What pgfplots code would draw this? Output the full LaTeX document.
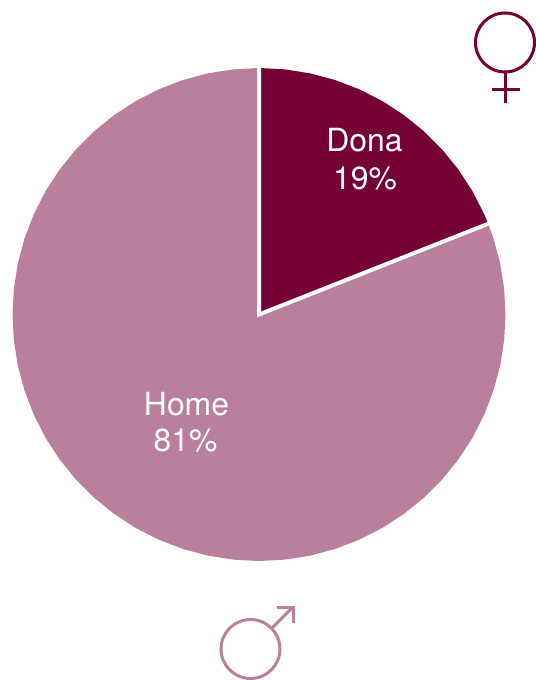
\documentclass[border=0pt]{standalone}
\usepackage{pgfplots}
\pgfplotsset{compat=1.18}
\usepackage{fontspec}
\setmainfont{TeX Gyre Heros}
\definecolor{dona}{HTML}{740035}
\definecolor{home}{HTML}{B97F9C}
\begin{document}
\begin{tikzpicture}
% Page area
\path (0bp,0bp) rectangle (536bp,680bp);
% Unit-radius pie; both shares start at 12 o'clock and run clockwise.
\begin{axis}[
  at={(0bp,0bp)}, anchor=south west,
  scale only axis, width=536bp, height=680bp,
  hide axis, clip=false,
  xmin=-1.0507, xmax=1.1237, ymin=-1.4828, ymax=1.2759,
]
% Dona: 19%
\addplot[draw=none, fill=dona] coordinates {
  (0,0) (0,1) (.10453,.99452) (.20791,.97815) (.30902,.95106) (.40674,.91355)
  (.5,.86603) (.58779,.80902) (.66913,.74314) (.74314,.66913) (.80902,.58779)
  (.86603,.5) (.91355,.40674) (.92978,.36812)
} -- cycle;
% Home: 81%
\addplot[draw=none, fill=home] coordinates {
  (0,0) (.92978,.36812) (.95106,.30902) (.97815,.20791) (.99452,.10453) (1,0)
  (.99452,-.10453) (.97815,-.20791) (.95106,-.30902) (.91355,-.40674) (.86603,-.5)
  (.80902,-.58779) (.74314,-.66913) (.66913,-.74314) (.58779,-.80902) (.5,-.86603)
  (.40674,-.91355) (.30902,-.95106) (.20791,-.97815) (.10453,-.99452) (0,-1)
  (-.10453,-.99452) (-.20791,-.97815) (-.30902,-.95106) (-.40674,-.91355) (-.5,-.86603)
  (-.58779,-.80902) (-.66913,-.74314) (-.74314,-.66913) (-.80902,-.58779) (-.86603,-.5)
  (-.91355,-.40674) (-.95106,-.30902) (-.97815,-.20791) (-.99452,-.10453) (-1,0)
  (-.99452,.10453) (-.97815,.20791) (-.95106,.30902) (-.91355,.40674) (-.86603,.5)
  (-.80902,.58779) (-.74314,.66913) (-.66913,.74314) (-.58779,.80902) (-.5,.86603)
  (-.40674,.91355) (-.30902,.95106) (-.20791,.97815) (-.10453,.99452) (0,1)
} -- cycle;
% White separators between the two slices
\addplot[draw=white, line width=4bp, line join=miter] coordinates {
  (0,1.01) (0,0) (.93909,.37180)
};
\end{axis}
% Labels and gender symbols, placed on a y-down grid measured from the top left
\begin{scope}[shift={(0bp,680bp)}, x=1bp, y=-1bp]
  \fontsize{32}{37}\selectfont
  \node[white, anchor=base, inner sep=0pt] at (364.5,152) {Dona};
  \node[white, anchor=base, inner sep=0pt] at (365,190) {19\%};
  \node[white, anchor=base, inner sep=0pt] at (186.5,415.5) {Home};
  \node[white, anchor=base, inner sep=0pt] at (185.5,451.5) {81\%};
  % Female symbol
  \begin{scope}[draw=dona, line width=3bp]
    \draw (505,42.5) circle[radius=29.5bp];
    \draw (505.7,72) -- (505.7,103.5);
    \draw (492,90) -- (519.5,90);
  \end{scope}
  % Male symbol
  \begin{scope}[draw=home, line width=3bp]
    \draw (250.5,649) circle[radius=29.5bp];
    \draw (272,628) -- (292,608);
    \draw (277,607.5) -- (293,607.5) -- (293,623);
  \end{scope}
\end{scope}
\end{tikzpicture}
\end{document}
